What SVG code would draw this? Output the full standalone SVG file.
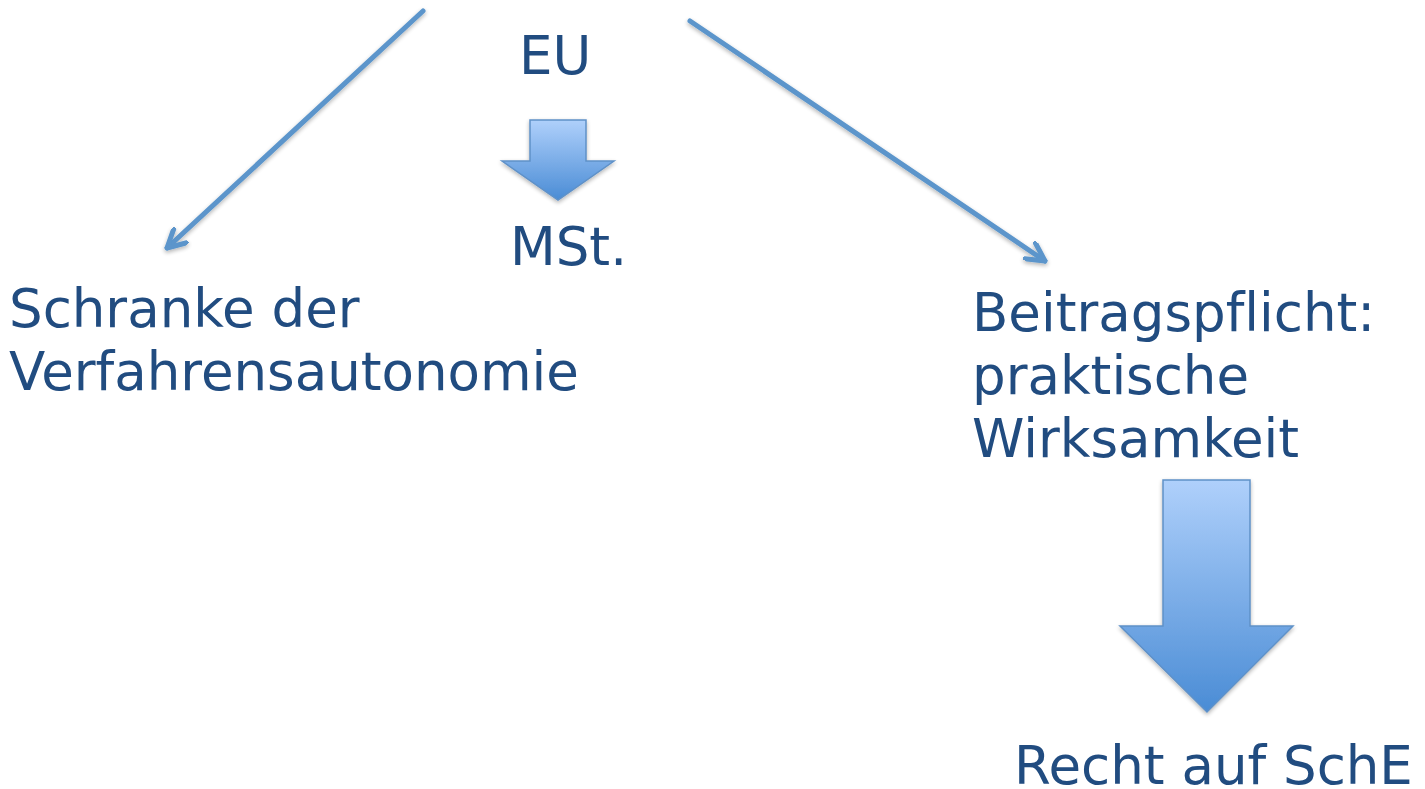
<svg xmlns="http://www.w3.org/2000/svg" width="1425" height="789" viewBox="0 0 1425 789">
<style>
.t{font-family:"DejaVu Sans",Verdana,sans-serif;font-size:53px;fill:#214C80;font-variant-ligatures:none}
.ln{stroke:#5B95CB;stroke-width:5;fill:none;stroke-linecap:round;filter:url(#sh)}
.blk{fill:url(#g);stroke:#5F91C8;stroke-width:1.5;filter:url(#sh)}
</style>
<defs>
<linearGradient id="g" x1="0" y1="0" x2="0" y2="1">
<stop offset="0" stop-color="#AFD0FB"/>
<stop offset="1" stop-color="#4A8CD5"/>
</linearGradient>
<filter id="sh" x="-20%" y="-20%" width="140%" height="140%">
<feGaussianBlur in="SourceAlpha" stdDeviation="2"/>
<feOffset dx="0" dy="2" result="b"/>
<feComponentTransfer><feFuncA type="linear" slope="0.3"/></feComponentTransfer>
<feMerge><feMergeNode/><feMergeNode in="SourceGraphic"/></feMerge>
</filter>
<marker id="ah" viewBox="0 0 22 22" refX="20" refY="11" markerWidth="22" markerHeight="22" markerUnits="userSpaceOnUse" orient="auto">
<path d="M2,1.5 L20,11 L2,20.5" fill="none" stroke="#5B95CB" stroke-width="5" stroke-linecap="round" stroke-linejoin="round"/>
</marker>
</defs>
<g id="connectors">
<line class="ln" x1="423" y1="11" x2="167" y2="248" marker-end="url(#ah)"/>
<line class="ln" x1="690" y1="21" x2="1045" y2="261" marker-end="url(#ah)"/>
<path id="arrow-small" class="blk" d="M530,120 L586,120 L586,161 L614,161 L558,200 L502,161 L530,161 Z"/>
<path id="arrow-large" class="blk" d="M1163,480 L1250,480 L1250,626 L1293,626 L1207,712 L1120,626 L1163,626 Z"/>
</g>
<g id="eu"><text class="t" x="519" y="74">EU</text></g>
<g id="mst"><text class="t" x="510" y="265">MSt.</text></g>
<g id="schranke"><text class="t" x="9" y="327">Schranke der</text><text class="t" x="9" y="390">Verfahrensautonomie</text></g>
<g id="beitrag"><text class="t" x="972" y="331">Beitragspflicht:</text><text class="t" x="972" y="394">praktische</text><text class="t" x="972" y="457">Wirksamkeit</text></g>
<g id="recht"><text class="t" x="1014" y="784">Recht auf SchE</text></g>
</svg>
